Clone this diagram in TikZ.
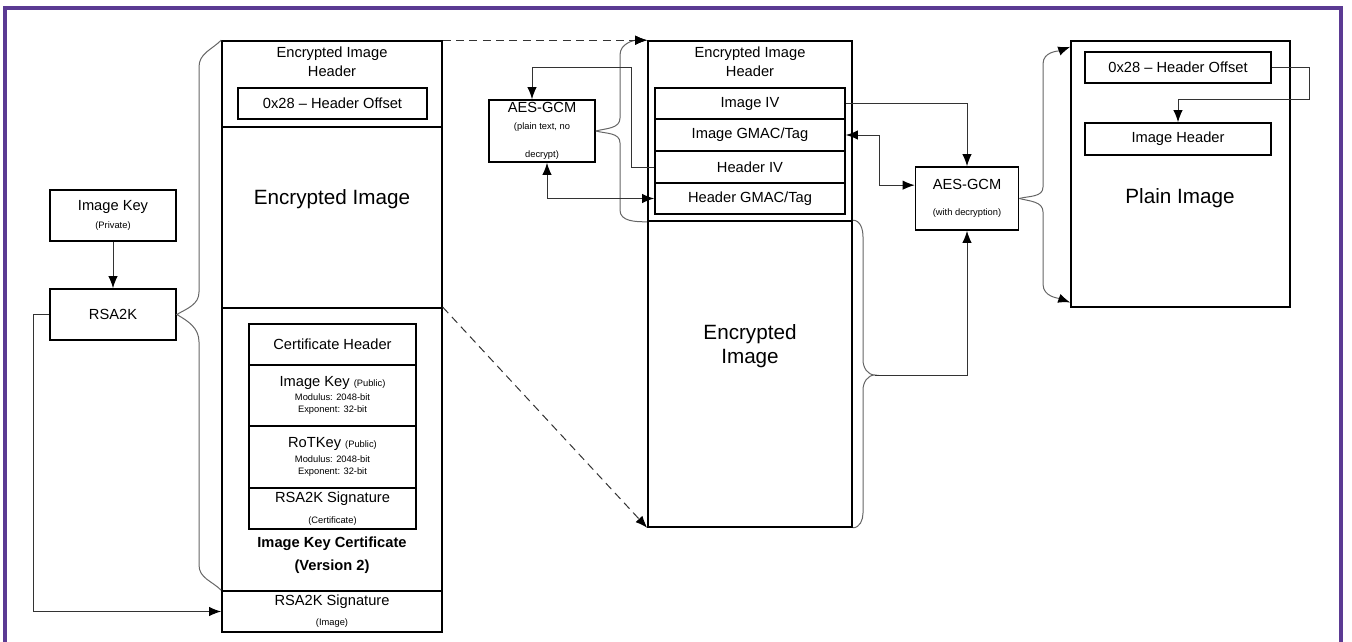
\documentclass[tikz,border=0pt]{standalone}
\usepackage{fontspec}
\setmainfont{Liberation Sans}
\usepackage{tikz}
\usetikzlibrary{arrows.meta}
\usetikzlibrary{positioning}
\newcommand{\notefont}{\fontsize{7}{8.5}\selectfont}
\newcommand{\bigfont}{\fontsize{15.5}{18}\selectfont}
\definecolor{framecol}{HTML}{5B3A93}
\definecolor{wirecol}{HTML}{333333}
\definecolor{bracecol}{HTML}{666666}
\tikzset{
    block/.style={
           rectangle,
           draw=black, line width=1.2pt,
           inner sep=0pt,
           },
    field/.style={
           rectangle,
           draw=black, line width=1.2pt,
           inner sep=0pt,
           align=center,
           font=\fontsize{11}{14}\selectfont,
           },
    txt/.style={
           inner sep=0pt,
           align=center,
           font=\fontsize{11}{14}\selectfont,
           },
    wh/.style 2 args={minimum width=#1*0.75pt, minimum height=#2*0.75pt},
    wire/.style={draw=wirecol, line width=0.75pt},
    bracket/.style={draw=bracecol, line width=0.75pt},
    longdash/.style={dash pattern=on 6pt off 4pt},
}

\begin{document}
\begin{tikzpicture}[x=0.75pt,y=-0.75pt,>={Latex[length=9pt,width=7pt,color=black]}]
 \useasboundingbox (0,0) rectangle (1352,642);
 % purple frame round the whole figure
 \draw[framecol, line width=2.4pt] (5,642) -- (5,8) -- (1341,8) -- (1341,642);

 % Signing side: key and RSA2K
 \node[field, wh={126}{51}] (ikPriv) at (113,215.5)
 {Image Key\\[-1pt]{\notefont(Private)}};
 \node[field, wh={126}{51}] (rsa) at (113,314.5) {RSA2K};

 % Signed image as stored (left stack)
 \node[block, wh={220}{86}] (hdrA) at (332,84) {};
 \node[txt] (hdrAt) at (332,62) {Encrypted Image\\Header};
 \node[field, wh={189}{31}] (offA) at (332.5,103.5) {0x28 – Header Offset};
 \node[block, wh={220}{181}] (encA) at (332,217.5) {};
 \node[txt, font=\bigfont] (encAt) at (332,199) {Encrypted Image};
 \node[block, wh={220}{283}] (certA) at (332,449.5) {};
 \node[block, wh={220}{41}] (sigA) at (332,611.5) {};
 \node[txt] (sigAt) at (332,611)
 {RSA2K Signature\\[1pt]{\notefont(Image)}};

 % certificate fields, stacked one below the other
 \node[field, wh={167}{41}] (chdr) at (332.5,344.5) {Certificate Header};
 \node[field, wh={167}{61},
 below of=chdr,
 node distance=51*0.75pt] (ikPub)
 {Image Key {\notefont(Public)}\\[-3pt]{\notefont Modulus: 2048-bit}\\[-5pt]{\notefont Exponent: 32-bit}};
 \node[field, wh={167}{62},
 below of=ikPub,
 node distance=61.5*0.75pt] (rotKey)
 {RoTKey {\notefont(Public)}\\[-3pt]{\notefont Modulus: 2048-bit}\\[-5pt]{\notefont Exponent: 32-bit}};
 \node[field, wh={167}{41},
 below of=rotKey,
 node distance=51.5*0.75pt] (sigC)
 {RSA2K Signature\\[2pt]{\notefont(Certificate)}};
 \node[txt, font=\fontsize{11}{17}\selectfont\bfseries] (certAt) at (332,555.5)
 {Image Key Certificate\\(Version 2)};

 % Header stack after the copy
 \node[block, wh={204}{180}] (hdrB) at (750,131) {};
 \node[txt] (hdrBt) at (750,62) {Encrypted Image\\Header};
 \node[field, wh={190}{31}] (ivI) at (750,103.5) {Image IV};
 \node[field, wh={190}{32},
 below of=ivI,
 node distance=31.5*0.75pt] (tagI) {Image GMAC/Tag};
 \node[field, wh={190}{32},
 below of=tagI,
 node distance=32*0.75pt] (ivH) {Header IV};
 \node[field, wh={190}{31},
 below of=ivH,
 node distance=31.5*0.75pt] (tagH) {Header GMAC/Tag};
 \node[block, wh={204}{306}] (encB) at (750,374) {};
 \node[txt, font=\bigfont] (encBt) at (750,346) {Encrypted\\Image};

 % the two AES-GCM steps
 \node[field, wh={106}{62}] (aesP) at (542,131)
 {AES-GCM\\[-1pt]{\notefont(plain text, no}\\[7pt]{\notefont decrypt)}};
 \node[field, wh={103}{63}] (aesD) at (967,198.5)
 {AES-GCM\\[5pt]{\notefont(with decryption)}};

 % Decrypted result
 \node[block, wh={219}{266}] (plainB) at (1180.5,174) {};
 \node[field, wh={186}{31}] (offB) at (1178,67.5) {0x28 – Header Offset};
 \node[field, wh={186}{32}] (ihdr) at (1178,139) {Image Header};
 \node[txt, font=\bigfont] (plainBt) at (1180,198) {Plain Image};

 % braces
 \draw[bracket] (hdrA.north west) to[out=225,in=90] (199,67) -- (199,292)
   to[out=-90,in=30] (rsa.east) to[out=-30,in=90] (199,342) -- (199,565)
   to[out=-90,in=135] (sigA.north west);
 \draw[bracket,->] (aesP.east) to[out=15,in=-90] (620,118) -- (620,55)
   to[out=90,in=180] (hdrB.north west);
 \draw[bracket] (aesP.east) to[out=-15,in=90] (620,143) -- (620,210)
   to[out=-90,in=180] (hdrB.south west);
 \coordinate (tipE) at (875,375);
 \draw[bracket] (encB.north east) to[out=0,in=90] (863,237) -- (863,360)
   to[out=-90,in=180] (tipE) to[out=180,in=90] (863,390) -- (863,513)
   to[out=-90,in=0] (encB.south east);
 \draw[bracket,->] (aesD.east) to[out=15,in=-90] (1043,187) -- (1043,64)
   to[out=90,in=200] ([yshift=-5pt]plainB.north west);
 \draw[bracket,->] (aesD.east) to[out=-15,in=90] (1043,212) -- (1043,284)
   to[out=-90,in=160] ([yshift=4pt]plainB.south west);

 % connectors
 \draw[wire,->] (ikPriv) -- (rsa);
 \draw[wire,->] (rsa.west) -- ++(-16,0) |- (sigA.west);
 \draw[wire,longdash,->] (hdrA.north east) -- (hdrB.north west);
 \draw[wire,longdash,->] (certA.north east) -- (encB.south west);
 \draw[wire,->] (ivH.west) -| (631,68) -| ([xshift=-7.5pt]aesP.north);
 \draw[wire,<->] ([xshift=3.75pt]aesP.south) |- (tagH.west);
 \draw[wire,->] (ivI.east) -| (aesD.north);
 \draw[wire,<->] (tagI.east) -- ++(34,0) |- ([yshift=10pt]aesD.west);
 \draw[wire,->] (tipE) -| (aesD.south);
 \draw[wire,->] (offB.east) -| (1309,99) -| (ihdr.north);
\end{tikzpicture}
\end{document}
